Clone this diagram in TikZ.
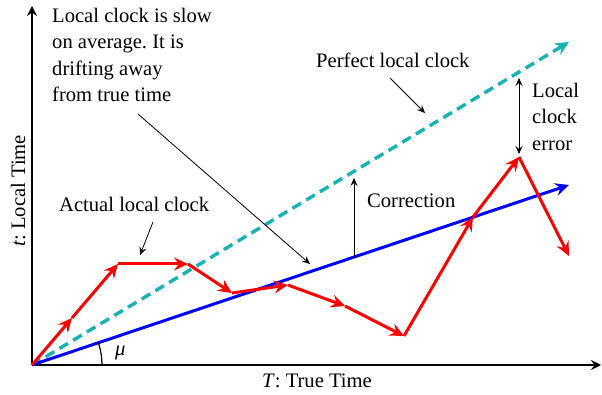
\documentclass[tikz,border=0pt]{standalone}
\usepackage{fontspec}
\setmainfont{Liberation Serif}
\usetikzlibrary{arrows.meta}
\definecolor{tealc}{RGB}{22,178,180}
\frenchspacing
\begin{document}
\begin{tikzpicture}[x=1pt,y=-1pt,
  lbl/.style={font=\fontsize{20.6}{26.3}\selectfont, inner sep=0pt},
  bigtip/.style={-{Stealth[length=14pt,width=13pt,inset=5pt]}},
  axis/.style={line width=2.4pt, -{Stealth[length=10pt,width=10pt,inset=3.5pt]}},
  redseg/.style={red, line width=3pt, bigtip},
  ann/.style={line width=0.8pt, -{Stealth[length=8pt,width=7pt,inset=3pt]}},
  annb/.style={line width=0.8pt, {Stealth[length=8pt,width=7pt,inset=3pt]}-{Stealth[length=8pt,width=7pt,inset=3pt]}}
]
\useasboundingbox (0,0) rectangle (602,395);
% axes
\coordinate (O) at (32,365);
\coordinate (Ytop) at (32,6);
\coordinate (Xend) at (601,365);
\draw[axis] (O) -- (Ytop);
\draw[axis] (O) -- (Xend);
% perfect clock (dashed) and average clock (blue)
\coordinate (C) at (569,42);
\coordinate (B) at (569,185);
\draw[tealc, line width=3.4pt, dash pattern=on 10pt off 6pt, bigtip] (O) -- (C);
\draw[blue, line width=3pt, bigtip] (O) -- (B);
% actual clock (red)
\coordinate (A1) at (72,318);
\coordinate (A2) at (118,264);
\coordinate (A3) at (188,264);
\coordinate (A4) at (232,293);
\coordinate (A5) at (288,285);
\coordinate (A6) at (345,306);
\coordinate (A7) at (404,336);
\coordinate (A8) at (473,217);
\coordinate (A9) at (519,157);
\coordinate (A10) at (569,256);
\draw[redseg] (O) -- (A1);
\draw[redseg] (A1) -- (A2);
\draw[redseg] (A2) -- (A3);
\draw[redseg] (A3) -- (A4);
\draw[redseg] (A4) -- (A5);
\draw[redseg] (A5) -- (A6);
\draw[redseg] (A6) -- (A7);
\draw[redseg] (A7) -- (A8);
\draw[redseg] (A8) -- (A9);
\draw[redseg] (A9) -- (A10);
% angle mu
\draw[line width=1.2pt] (102,365) arc[start angle=0, end angle=-18.56, radius=70];
\node[lbl, anchor=base west] (mu) at (115,355) {\textit{μ}};
% axis labels
\node[lbl, anchor=base west] (xl) at (262,387) {\textit{T}: True Time};
\node[lbl, anchor=base west, rotate=90] (yl) at (25,247) {\textit{t}: Local Time};
% annotations
\node[lbl, anchor=north west, align=left] (slow) at (52,8) {Local clock is slow\\on average. It is\\drifting away\\from true time};
\coordinate (s1) at (138,114);
\coordinate (s2) at (310,264);
\draw[ann] (s1) -- (s2);
\node[lbl, anchor=base west] (act) at (59,212) {Actual local clock};
\coordinate (a1) at (153,222);
\coordinate (a2) at (140,255);
\draw[ann] (a1) -- (a2);
\node[lbl, anchor=base west] (perf) at (316,68) {Perfect local clock};
\coordinate (p1) at (390,78);
\coordinate (p2) at (425,113);
\draw[ann] (p1) -- (p2);
\node[lbl, anchor=base west] (corr) at (367,208) {Correction};
\coordinate (c1) at (354,257);
\coordinate (c2) at (354,178);
\draw[ann] (c1) -- (c2);
\node[lbl, anchor=north west, align=left] (err) at (532,83) {Local\\clock\\error};
\coordinate (e1) at (519,78);
\coordinate (e2) at (519,154);
\draw[annb] (e1) -- (e2);
\end{tikzpicture}
\end{document}
